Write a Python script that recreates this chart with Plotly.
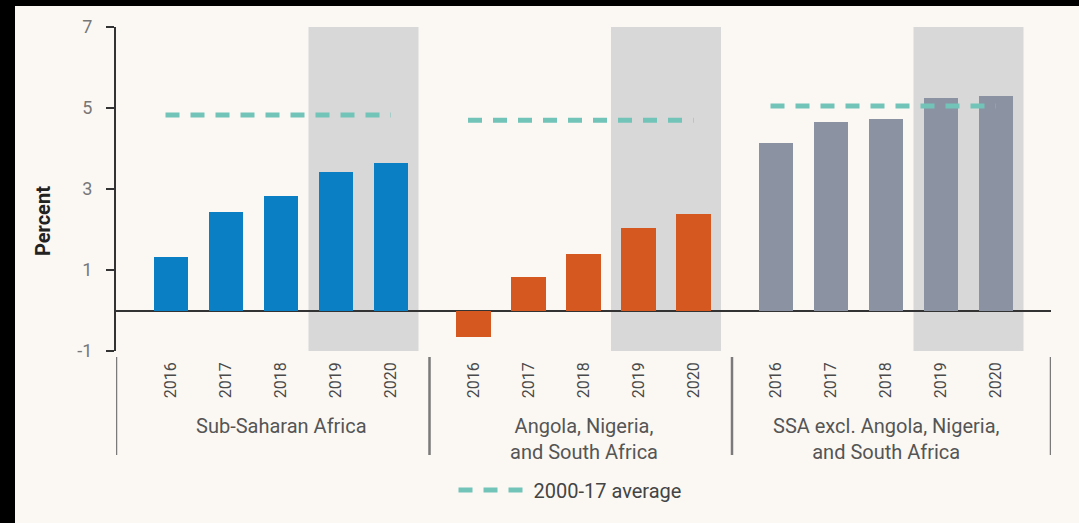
import plotly.graph_objects as go

# ---- data ----
years = ["2016", "2017", "2018", "2019", "2020"]
forecast_years = ["2019", "2020"]
groups = ["Sub-Saharan Africa", "Angola, Nigeria,<br>and South Africa",
          "SSA excl. Angola, Nigeria,<br>and South Africa"]
ssa = [1.33, 2.42, 2.83, 3.42, 3.64]
ans = [-0.65, 0.83, 1.39, 2.04, 2.38]
ssa_excl = [4.14, 4.66, 4.74, 5.24, 5.30]
avg_2000_17 = [4.83, 4.70, 5.05]
series = [ssa, ans, ssa_excl]
colors = ["#0b7fc4", "#d4581f", "#8b92a2"]
avg_name = "2000-17 average"

# ---- layout constants ----
W, H = 1079, 523
ML, MR, MT, MB = 116, 28, 27, 172
PW, PH = W - ML - MR, H - MT - MB
BG = "#fbf8f4"
FONT = "Roboto"
group_step = len(years) + 0.5


def px_x(px):
    return (px - ML) / PW


def px_y(py):
    return (H - MB - py) / PH


fig = go.Figure()
tickvals, ticktext = [], []
shapes, annotations = [], []

for g, vals in enumerate(series):
    pos = [g * group_step + i for i in range(len(years))]
    tickvals += pos
    ticktext += years
    fig.add_trace(go.Bar(x=pos, y=vals, marker=dict(color=colors[g], line=dict(width=0)),
                         width=0.62, showlegend=False, name=groups[g]))
    fig.add_trace(go.Scatter(x=[pos[0] - 0.1, pos[-1]], y=[avg_2000_17[g]] * 2,
                             mode="lines", name=avg_name, showlegend=(g == 0),
                             line=dict(color="#72c4b9", width=5, dash="14px,11px")))
    # forecast shading
    fidx = [years.index(y) for y in forecast_years]
    shapes.append(dict(type="rect", xref="x", yref="y", layer="below",
                       x0=pos[min(fidx)] - 0.5, x1=pos[max(fidx)] + 0.5, y0=-1, y1=7,
                       fillcolor="#d8d8d8", line=dict(width=0)))
    # group label
    annotations.append(dict(x=pos[2], y=px_y(412), xref="x", yref="paper",
                            text=groups[g], showarrow=False, xanchor="center", yanchor="top",
                            font=dict(family=FONT, size=20, color="#555555")))

# separators
xmin, xmax = -1, (len(series) - 1) * group_step + len(years)
seps = [xmin] + [g * group_step + len(years) - 1 + 0.7 for g in range(len(series) - 1)] + [xmax]
for s in seps:
    shapes.append(dict(type="line", xref="x", yref="paper", x0=s, x1=s,
                       y0=px_y(357), y1=px_y(455), line=dict(color="#7a7a7a", width=2.5)))

# black frame strips (top and left edges of the picture)
shapes.append(dict(type="rect", xref="paper", yref="paper", layer="above",
                   x0=px_x(-5), x1=px_x(15), y0=px_y(530), y1=px_y(-5),
                   fillcolor="black", line=dict(width=0)))
shapes.append(dict(type="rect", xref="paper", yref="paper", layer="above",
                   x0=px_x(-5), x1=px_x(W + 5), y0=px_y(6), y1=px_y(-5),
                   fillcolor="black", line=dict(width=0)))

# y-axis title
annotations.append(dict(x=px_x(43), y=px_y(221), xref="paper", yref="paper",
                        text="Percent", textangle=-90, showarrow=False,
                        xanchor="center", yanchor="middle",
                        font=dict(family=FONT, size=20, color="#222222", weight="bold")))

fig.update_layout(
    width=W, height=H,
    margin=dict(l=ML, r=MR, t=MT, b=MB, pad=0),
    paper_bgcolor=BG, plot_bgcolor=BG,
    font=dict(family=FONT, color="#555555"),
    bargap=0,
    shapes=shapes, annotations=annotations,
    xaxis=dict(range=[xmin, xmax], tickvals=tickvals, ticktext=ticktext,
               tickangle=-90, showgrid=False, zeroline=False, showline=False,
               ticks="", ticklabelstandoff=7,
               tickfont=dict(family=FONT, size=16, color="#4a4a4a"), fixedrange=True),
    yaxis=dict(range=[-1, 7], tickvals=[-1, 1, 3, 5, 7], ticktext=["-1", "1", "3", "5", "7"],
               showgrid=False, showline=True, linecolor="#333333", linewidth=2,
               ticks="outside", ticklen=8, tickwidth=1.5, tickcolor="#333333",
               ticklabelstandoff=10,
               zeroline=True, zerolinecolor="#333333", zerolinewidth=2,
               tickfont=dict(family=FONT, size=18, color="#777777"), fixedrange=True),
    legend=dict(orientation="h", x=px_x(570), y=px_y(490), xanchor="center", yanchor="middle",
                itemwidth=70,
                bgcolor="rgba(0,0,0,0)", font=dict(family=FONT, size=20, color="#444444")),
)

fig.write_html("out.html")
